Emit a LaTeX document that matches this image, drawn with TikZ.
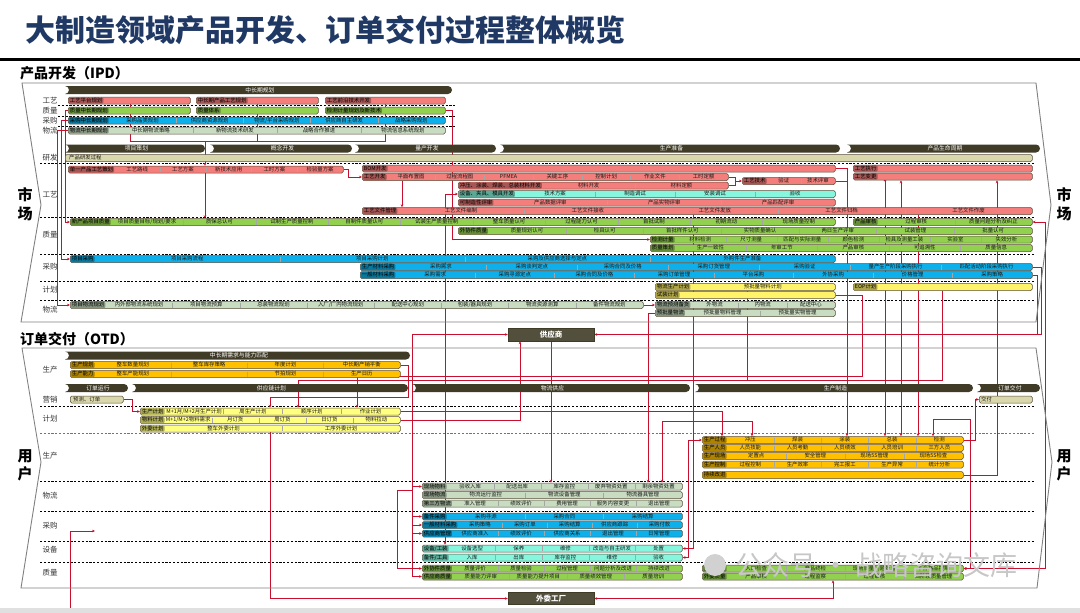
\documentclass[tikz,border=0pt]{standalone}
\usepackage{fontspec}
\setmainfont{Noto Sans CJK SC}
\usepackage{xcolor}
\usepackage{tikz}
\usetikzlibrary{shapes.misc,arrows.meta,backgrounds,calc}

\definecolor{pinkc}{HTML}{F47E7B}
\definecolor{greenc}{HTML}{92D050}
\definecolor{bluec}{HTML}{0DB0EA}
\definecolor{cyanc}{HTML}{86F7DE}
\definecolor{logic}{HTML}{C7DCC0}
\definecolor{yellowc}{HTML}{FFF36A}
\definecolor{yellowp}{HTML}{FFFF80}
\definecolor{orangec}{HTML}{FFC000}
\definecolor{beigec}{HTML}{D9D7AC}
\definecolor{hdrc}{HTML}{3F3B27}
\definecolor{barline}{HTML}{5B4B3A}
\definecolor{redc}{HTML}{C8102E}
\definecolor{titlec}{HTML}{1F3864}
\definecolor{framec}{HTML}{808080}

\newcommand{\bartext}{\fontsize{5.4}{6}\selectfont}
\newcommand{\hdrtext}{\fontsize{5.8}{6}\selectfont}

\tikzset{
  segbox/.style={draw=barline, line width=0.5pt, rounded corners=1.5pt, minimum height=7pt, inner sep=0pt},
  leadbox/.style={rounded corners=1pt, minimum height=6pt, inner xsep=1pt, inner ysep=0pt,
    text height=4.4pt, text depth=0.9pt, font=\bartext, text=black},
  segtext/.style={font=\bartext, text=black!90, inner sep=0pt, text height=4.4pt, text depth=0.9pt},
  segdiv/.style={draw=black!35, line width=0.4pt},
  hdr/.style={rounded rectangle, rounded rectangle left arc=concave, fill=hdrc, text=white,
    minimum height=8pt, inner sep=0pt, font=\hdrtext},
  boxn/.style={fill=hdrc!90!white, draw=hdrc, text=white, inner sep=0pt, font=\fontsize{7.5}{8}\selectfont\bfseries},
  rowlab/.style={font=\fontsize{7.5}{8}\selectfont, text=black!80, inner sep=0pt},
  sidelab/.style={font=\fontsize{15}{16}\selectfont\bfseries, inner sep=0pt},
  frame/.style={draw=framec, line width=0.9pt},
  lane/.style={draw=black, line width=0.5pt, dash pattern=on 2.2pt off 1.6pt},
  rl/.style={draw=redc, line width=0.6pt}
}

% bar with a darker lead cell and evenly spread segments
% #1 name, #2 x left, #3 x right, #4 y, #5 colour, #6 lead, #7 segments
\newcommand{\segbar}[7]{%
  \node[segbox, fill=#5, minimum width={#3-#2}, anchor=west] (#1) at (#2,#4) {};
  \node[leadbox, fill=#5!68!black, anchor=west] (#1-l) at ({#2+0.7},#4) {#6};
  \def\segl{#7}%
  \ifx\segl\empty\else
    \path (#1-l.east); \pgfgetlastxy{\segx}{\segy}%
    \foreach \s [count=\i] in {#7} {\xdef\segn{\i}}%
    \pgfmathsetmacro\segw{(#3-\segx)/\segn}%
    \foreach \s [count=\i] in {#7} {%
      \pgfmathsetmacro\cx{\segx+(\i-0.5)*\segw}%
      \pgfmathsetmacro\dx{\segx+(\i-1)*\segw}%
      \node[segtext] at (\cx,#4) {\s};
      \ifnum\i>1 \draw[segdiv] (\dx,#4-2.5) -- (\dx,#4+2.5);\fi
    }%
  \fi
}

\begin{document}
\begin{tikzpicture}[x=1pt, y=-1pt, >={Stealth[length=3pt,width=2.6pt]}]
\useasboundingbox (0,0) rectangle (1080,613);

% title
\node[anchor=west, font=\fontsize{30}{32}\selectfont\bfseries, text=titlec, inner sep=0pt] (title) at (25,30) {大制造领域产品开发、订单交付过程整体概览};
\draw[line width=3.5pt] (0,59.5) -- (1080,59.5);
\fill[black!12] (0,608) rectangle (1080,613);

% ---------------- IPD ----------------
\node[anchor=west, font=\fontsize{14}{15}\selectfont\bfseries, inner sep=0pt] (ipd) at (20,73) {产品开发（IPD）};
\draw[frame] (22,83) -- (1036,83) -- (1051,205) -- (1036,322) -- (21,322) -- (41,205) -- cycle;
\node[sidelab] (sc-l1) at (25,195) {市};
\node[sidelab] (sc-l2) at (25,214) {场};
\node[sidelab] (sc-r1) at (1064,195) {市};
\node[sidelab] (sc-r2) at (1064,214) {场};

% row labels
\node[rowlab] (ra1) at (50,101) {工艺};
\node[rowlab] (ra2) at (50,111) {质量};
\node[rowlab] (ra3) at (50,121) {采购};
\node[rowlab] (ra4) at (50,131) {物流};
\node[rowlab] (rb1) at (50,158) {研发};
\node[rowlab] (rb2) at (50,195) {工艺};
\node[rowlab] (rb3) at (50,235) {质量};
\node[rowlab] (rb4) at (50,267) {采购};
\node[rowlab] (rb5) at (50,290) {计划};
\node[rowlab] (rb6) at (50,310) {物流};

% long term planning
\node[hdr, minimum width=387, anchor=west] (h-zcq) at (65,90) {中长期规划};
\segbar{pa1}{68}{190}{100.5}{pinkc}{工艺平台规划}{}
\segbar{pa2}{196}{318}{100.5}{pinkc}{中长期产品工艺规划}{}
\segbar{pa3}{325}{445}{100.5}{pinkc}{工艺前沿技术开发}{}
\segbar{qa1}{68}{190}{110.5}{greenc}{质量中长期规划}{}
\segbar{qa2}{196}{318}{110.5}{greenc}{质量体系}{}
\segbar{qa3}{325}{445}{110.5}{greenc}{检测计量规划及新技术}{}
\segbar{ca1}{68}{445}{120.5}{bluec}{采购中长期规划}{采购品类规划,供应商资源规划,物流/平台采购规划,供应商自主研发,战略采购规划}
\segbar{la1}{68}{445}{130.5}{logic}{物流中长期规划}{中长期物流策略,新物流技术研发,战略合作推进,物流信息系统规划}

% project stages
\node[hdr, minimum width=140, anchor=west] (h-xm) at (65,148.5) {项目策划};
\node[hdr, minimum width=142, anchor=west] (h-gn) at (210,148.5) {概念开发};
\node[hdr, minimum width=141, anchor=west] (h-lc) at (355,148.5) {量产开发};
\node[hdr, minimum width=340, anchor=west] (h-sc) at (500,148.5) {生产准备};
\node[hdr, minimum width=193, anchor=west] (h-sm) at (847,148.5) {产品生命周期};
\node[segbox, fill=beigec, minimum width=967, anchor=west] (rd) at (65,158) {};
\node[segtext, anchor=west] (rd-t) at (69,158) {产品研发过程};

% process
\segbar{pb1}{68}{343}{169.5}{pinkc}{单一产品工艺策划}{工艺路线,工艺方案,新技术应用,工时方案,检验量方案}
\segbar{pb2}{362}{835}{168.5}{pinkc}{BOM开发}{}
\segbar{pb3}{362}{728}{177}{pinkc}{工艺开发}{平面布置图,过程流程图,PFMEA,关键工序,控制计划,作业文件,工时定额}
\segbar{pb8}{742}{835}{181}{pinkc}{工艺技术}{验证,技术评审}
\segbar{pb4}{458}{728}{185.5}{pinkc}{冲压、涂装、焊装、总装材料开发}{材料开发,材料定额}
\segbar{pb5}{458}{835}{194}{cyanc}{设备、夹具、模具开发}{技术方案,制造调试,安装调试,验收}
\segbar{pb6}{458}{835}{202.5}{pinkc}{可制造性评审}{产品数据评审,产品实物评审,产品匹配评审}
\segbar{pb7}{362}{1032}{211}{pinkc}{工艺文件管理}{工艺文件编制,工艺文件接收,工艺文件发放,工艺文件归档,工艺文件作废}
\segbar{pb9}{853}{1032}{168.5}{pinkc}{工艺执行}{}
\segbar{pb10}{853}{1032}{176.5}{pinkc}{工艺变更}{}

% quality
\segbar{qb1}{70}{835}{222}{greenc}{新产品项目质量}{项目质量目标/规划/要求,质保总认可,试制生产质量控制,自制件质量认可,试装生产质量控制,整车质量认可,过程能力认可,首批试制,初期流动,现场质量控制}
\segbar{qb2}{853}{1032}{222}{greenc}{产品审核}{过程审核,质量问题分析及纠正}
\segbar{qb3}{458}{1032}{231}{greenc}{外协件质量}{质量规划认可,检具认可,首批样件认可,实物质量确认,两日生产评审,试装管理,批量认可}
\segbar{qb4}{650}{1032}{239.5}{greenc}{检测计量}{材料检测,尺寸测量,匹配与实际测量,颜色检测,检具及测量工装,实验室,失效分析}
\segbar{qb5}{650}{1032}{248}{greenc}{质量策划}{生产一致性,年审工节,产品审核,可追溯性,质量信息}

% purchasing
\segbar{cb1}{70}{835}{259}{bluec}{项目采购}{项目采购流程,项目采购计划,采购及供应商选择与定点,外购件生产准备}
\segbar{cb2}{360}{1032}{267}{bluec}{生产材料采购}{采购需求,采购谈判定点,采购合同及价格,采购订货管理,采购验证,量产生产阶段采购执行,匹配活动阶段采购执行}
\segbar{cb3}{360}{1032}{275}{bluec}{一般材料采购}{采购需求,采购寻源定点,采购合同及价格,采购订单管理,平台采购,外协采购,价格管理,采购策略}

% planning
\segbar{pl1}{655}{835}{287}{yellowc}{物流生产计划}{预批量物料计划}
\segbar{pl2}{655}{835}{295}{yellowc}{试装计划}{}
\segbar{pl3}{853}{1032}{287}{yellowc}{EOP计划}{}

% logistics
\segbar{lb1}{70}{643}{305}{logic}{项目物流规划}{内外部物流系统规划,项目物流预算,总装物流规划,入厂/厂内物流规划,配送中心规划,包装/器具规划,物流资源测算,备件物流规划}
\segbar{lb2}{655}{835}{305}{logic}{物流预测备货}{外物流,内物流,配送中心}
\segbar{lb3}{655}{835}{313}{logic}{预批量物流}{预批量物料管理,预批量实物管理}

\node[boxn, minimum width=86, minimum height=13] (gys) at (551,334.5) {供应商};

% ---------------- OTD ----------------
\node[anchor=west, font=\fontsize{14}{15}\selectfont\bfseries, inner sep=0pt] (otd) at (20,339) {订单交付（OTD）};
\draw[frame] (22,348) -- (1036,348) -- (1052,462) -- (1037,588) -- (21,588) -- (41,462) -- cycle;
\node[sidelab] (yh-l1) at (25,456) {用};
\node[sidelab] (yh-l2) at (25,474) {户};
\node[sidelab] (yh-r1) at (1064,456) {用};
\node[sidelab] (yh-r2) at (1064,474) {户};

\node[rowlab] (rc1) at (50,370) {生产};
\node[rowlab] (rc2) at (50,400) {营销};
\node[rowlab] (rc3) at (50,419) {计划};
\node[rowlab] (rc4) at (50,456) {生产};
\node[rowlab] (rc5) at (50,496) {物流};
\node[rowlab] (rc6) at (50,526) {采购};
\node[rowlab] (rc7) at (50,550) {设备};
\node[rowlab] (rc8) at (50,573) {质量};

% demand and capacity
\node[hdr, minimum width=345, anchor=west] (h-xq) at (65,355.5) {中长期需求与能力匹配};
\segbar{ob1}{70}{400}{365}{orangec}{生产规划}{整车数量规划,整车库存策略,年度计划,中长期产销平衡}
\segbar{ob2}{70}{400}{374}{orangec}{生产能力}{整车产能规划,,节拍规划,生产日历}

% order stages
\node[hdr, minimum width=63, anchor=west] (h-dd) at (65,388) {订单运行};
\node[hdr, minimum width=276, anchor=west] (h-gyl) at (132,388) {供应链计划};
\node[hdr, minimum width=278, anchor=west] (h-wl) at (412,388) {物流供应};
\node[hdr, minimum width=278, anchor=west] (h-zz) at (695,388) {生产制造};
\node[hdr, minimum width=63, anchor=west] (h-jf) at (977,388) {订单交付};
\node[segbox, fill=beigec, minimum width=53, anchor=west] (yc) at (70,399.5) {};
\node[segtext, anchor=west] (yc-t) at (73,399.5) {预测、订单};
\node[segbox, fill=beigec, minimum width=53, anchor=west] (jf) at (979,399.5) {};
\node[segtext, anchor=west] (jf-t) at (981,399.5) {交付};

% supply chain planning
\segbar{pj1}{140}{400}{411.5}{yellowp}{生产计划}{M+1月/M+2月生产计划,周生产计划,顺序计划,作业计划}
\segbar{pj2}{140}{400}{420}{yellowp}{物料计划}{M+1/M+2物料需求,月订货,周订货,日订货,物料拉动}
\segbar{pj3}{140}{400}{428.5}{yellowp}{外委计划}{整车外委计划,工序外委计划}

% manufacturing
\segbar{sc1}{702}{963}{440}{orangec}{生产过程}{冲压,焊装,涂装,总装,检测}
\segbar{sc2}{702}{963}{448}{orangec}{生产人员}{人员技能,人员考勤,人员绩效,人员培训,三方人员}
\segbar{sc3}{702}{963}{456}{orangec}{生产现场}{定置点,安全管理,现场5S管理,现场5S检查}
\segbar{sc4}{702}{963}{464.5}{orangec}{生产控制}{过程控制,生产效率,完工报工,生产异常,统计分析}
\segbar{sc5}{702}{963}{475}{orangec}{持续改进}{}

% logistics supply
\segbar{wl1}{422}{682}{486.5}{logic}{现场物料}{验收入库,配送出库,库存监控,废弃物资处置,剩余物资处置}
\segbar{wl2}{422}{682}{495}{logic}{现场物流}{物流运行监控,物流设备管理,物流器具管理}
\segbar{wl3}{422}{682}{503.5}{logic}{第三方物流}{准入管理,绩效评价,费用管理,服务内容变更,退出管理}
\segbar{cg1}{422}{682}{516.5}{bluec}{备件采购}{采购寻源,采购合同,采购结算}
\segbar{cg2}{422}{682}{525}{bluec}{一般材料采购}{采购策略,采购订单,采购结算,供应商跟踪,采购付款}
\segbar{cg3}{422}{682}{533.5}{bluec}{供应商管理}{供应商准入,绩效评价,供应商关系,退出管理,日常管理}
\segbar{sb1}{422}{682}{548.5}{cyanc}{设备/工装}{设备选型,保养,维修,改造与自主研发,处置}
\segbar{sb2}{422}{682}{557.5}{cyanc}{备件/工具}{入库,出库,库存监控,维修,验收}
\segbar{zl1}{422}{682}{568.5}{greenc}{外协件质量}{质量评价,质量检验,过程管理,问题分析及改进,持续改进}
\segbar{zl2}{422}{682}{576.5}{greenc}{供应商质量}{质量能力评审,质量能力提升项目,质量绩效管理,质量培训}
\segbar{zl3}{702}{963}{568.5}{greenc}{生产质量}{入口检查,产品终检,现场质量问题处理,不合格品控制}
\segbar{zl4}{702}{963}{576.5}{greenc}{外委质量}{产品审核,过程监察,过程审核,四阶段质量管理}

\node[boxn, minimum width=86, minimum height=12] (ww) at (551,598.5) {外委工厂};

% watermark
\fill[black!18] (715,565) circle (11);
\node[anchor=west, font=\fontsize{27}{28}\selectfont, text=black!22, inner sep=0pt] (wm) at (735,565) {公众号 · 战略咨询文库};

\begin{pgfonlayer}{background}
% swim lanes
\foreach \yy in {105.5,116,126.5}
  \draw[lane] (58,\yy) -- (455,\yy);
\foreach \yy in {163,217,254,281,300,406,481,511.5,541,562}
  \draw[lane] (40,\yy) -- (1034,\yy);
\draw[lane, draw=black!55] (40,433) -- (1034,433);

% planning into process
\coordinate (jg) at (205,141);
\draw[rl] (130,0 |- pa1.south) |- (385,0 |- jg) -- (385,0 |- pa3.south);
\draw[rl] (257,0 |- pa2.south) -- (257,0 |- jg);
\draw[rl,->] (jg) -- (205,0 |- pb1.north);
\draw[rl,->] (205,0 |- pb1.south) -- (205,0 |- qb1.north);
\draw[rl,->] (qa1.west) -- (65,0 |- qa1.west) |- (qb1.west);
\draw[rl,->] (ca1.west) -- (61,0 |- ca1.west) |- (cb1.west);
\draw[rl,->] (la1.west) -- (57,0 |- la1.west) |- (lb1.west);
\draw[rl,->] (pb1.east) -- (348,0 |- pb1.east) |- (pb3.west);
\draw[rl,->] (402,0 |- pb3.south) -- (402,0 |- pb7.north);
\draw[rl,->] (qa3.east) -- (452,0 |- qa3.east) |- (qb4.west);
\draw[rl] (pb3.east) -- (735,0 |- pb3.east) |- (pb4.east);
\draw[rl,->] (735,0 |- pb8.west) -- (pb8.west);

% process into manufacturing
\draw[rl,->] (pb2.east) -| (847,0 |- sc1.north);
\draw[rl] (pb8.east) -- (847,0 |- pb8.east);
\fill[redc] (885,0 |- pb10.south) circle (1.4);
\draw[rl,->] (885,0 |- pb10.south) -- (885,0 |- sc1.north);
\draw[rl,<->] (901,0 |- pb10.south) -- (901,0 |- sc1.north);
\draw[rl,->] (918,0 |- pb7.south) -- (918,0 |- sc1.north);
\draw[rl,->] (sc5.east) -| (997,0 |- pb10.south);

% plans into order plans
\coordinate (pbus) at (298,380);
\draw[rl] (942,0 |- pl3.south) |- (pbus);
\draw[rl] (747,0 |- pl1.south) -- (747,0 |- pbus);
\draw[rl,->] (pbus) -- (298,0 |- pj1.north);
\draw[rl,->] (pl2.east) -| (862,376) -| (357,0 |- pj1.north);
\draw[rl,->] (ob1.east) -- (408,0 |- ob1.east) |- (270,397) -- (270,0 |- pj1.north);
\draw[rl,->] (yc.east) -- (132,0 |- yc.east) |- (pj1.west);
\draw[rl,->] (pj1.east) -| (722,0 |- sc1.north);

% supplier
\draw[rl,->] (pj2.east) -| (520,0 |- gys.south);
\draw[rl,->] (551,0 |- gys.south) -- (551,0 |- wl1.north);
\draw[rl,->] (412,0 |- zl2.west) -- (412,0 |- gys.west) -- (gys.west);
\foreach \b in {wl1,cg1,cg2,cg3,zl2}
  \draw[rl,->] (412,0 |- \b.west) -- (\b.west);
\coordinate (sbus) at (412,490);
\draw[rl,->] (sbus) -- (397,0 |- sbus) |- (zl1.west);
\draw[rl,->] (cb2.east) -- (1041,0 |- cb2.east) |- (gys.east);
\draw[rl] (cb3.east) -- (1037,0 |- cb3.east) -- (1037,0 |- gys.east);

% logistics
\draw[rl,->] (lb1.east) -- (lb2.west);
\draw[rl,->] (lb3.west) -- (648,0 |- lb3.west) -- (648,0 |- wl1.north);
\draw[rl,<->] (662,0 |- wl1.north) |- (752,421) -- (752,0 |- sc1.north);

% equipment
\draw[rl,->] (445,0 |- pb5.west) -- (pb5.west);
\draw[rl,->] (445,0 |- pb5.west) -- (445,0 |- sb1.north);
\draw[rl,->] (693,0 |- pb7.south) |- (sb1.east);
\draw[rl,<->] (sc1.west) -- (688,0 |- sc1.west) |- (sb2.east);

% delivery and quality
\draw[rl,->] (sc1.east) -- (975,0 |- sc1.east) |- (jf.west);
\draw[rl,<->] (933,0 |- sc1.north) |- (970,419) |- (zl3.east);
\draw[rl,<->] (qb2.east) -- (1045,0 |- qb2.east) |- (zl3.east);

% outsourcing
\draw[rl,->] (270,0 |- pj3.south) |- (ww.west);
\draw[rl,<->] (ww.east) -| (833,0 |- zl4.south);
\coordinate (lbot) at (70,613);
\coordinate (lcg) at (95,531);
\draw[rl,->] (lbot) |- (lcg);
\end{pgfonlayer}
\end{tikzpicture}
\end{document}
